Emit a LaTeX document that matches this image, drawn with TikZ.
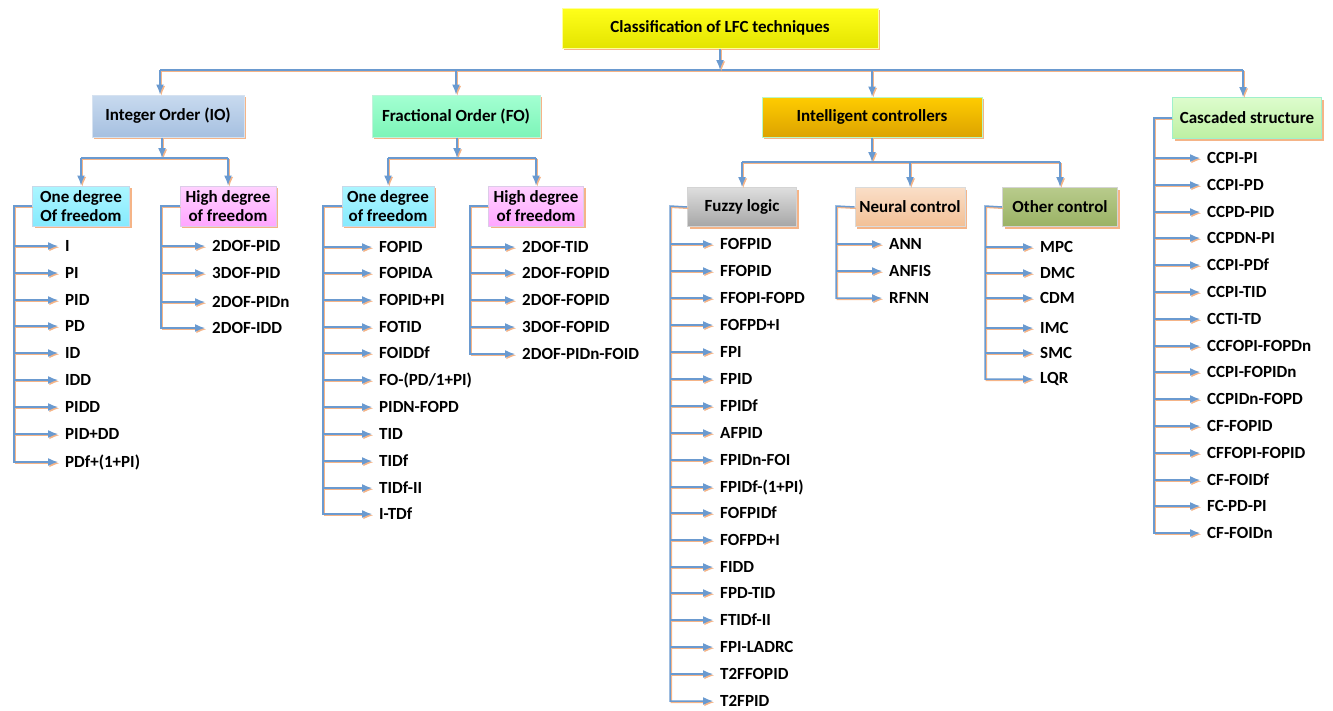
\documentclass[tikz,border=0pt]{standalone}
\usepackage{fontspec}
\setmainfont{Carlito}
\usetikzlibrary{shadows,arrows.meta}

\definecolor{linec}{HTML}{6A9AD0}
\definecolor{shadc}{HTML}{F5B487}
\definecolor{rootT}{HTML}{FFFF1A}\definecolor{rootB}{HTML}{E4E400}\definecolor{rootD}{HTML}{FFFF99}
\definecolor{ioT}{HTML}{C8DAEF}\definecolor{ioB}{HTML}{A6C0E0}\definecolor{ioD}{HTML}{D6E2F0}
\definecolor{foT}{HTML}{A4FFD2}\definecolor{foB}{HTML}{7CF5B8}\definecolor{foD}{HTML}{C0F2DA}
\definecolor{icT}{HTML}{FFCC00}\definecolor{icB}{HTML}{DCA300}\definecolor{icD}{HTML}{B8F8C8}
\definecolor{csT}{HTML}{DDFCCD}\definecolor{csB}{HTML}{BDF0A2}\definecolor{csD}{HTML}{A0F0CC}
\definecolor{oneT}{HTML}{ACF6FF}\definecolor{oneB}{HTML}{86EAFE}\definecolor{oneD}{HTML}{C8D8E8}
\definecolor{hiT}{HTML}{FFD2FF}\definecolor{hiB}{HTML}{FFA6FF}\definecolor{hiD}{HTML}{DCCCE8}
\definecolor{fzT}{HTML}{DEDEDE}\definecolor{fzB}{HTML}{A6A6A6}\definecolor{fzD}{HTML}{D4D4D4}
\definecolor{ncT}{HTML}{FADEC7}\definecolor{ncB}{HTML}{F2C096}\definecolor{ncD}{HTML}{DADADA}
\definecolor{ocT}{HTML}{B8CB8C}\definecolor{ocB}{HTML}{9AB264}\definecolor{ocD}{HTML}{D4D4D4}

\begin{document}
\begin{tikzpicture}[x=1pt,y=-1pt,
  font=\fontsize{17}{19}\selectfont\bfseries,
  box/.style n args={3}{top color=#1,bottom color=#2,draw=#3,line width=1pt,
    align=center,inner sep=1pt,
    drop shadow={fill=shadc,opacity=1,shadow xshift=2pt,shadow yshift=-2pt}},
  leaf/.style={anchor=west,inner xsep=7pt,inner ysep=1pt},
  wire/.style={draw=linec,line width=1.5pt,
    preaction={draw=shadc,line width=1.5pt,transform canvas={shift={(1.3pt,-1.3pt)}}}},
  conn/.style={wire,-{Latex[length=10pt,width=8pt]}}]
  \useasboundingbox (0,0) rectangle (1333,710);

  % top
  \node[box={rootT}{rootB}{rootD},minimum width=316,minimum height=40] (root) at (720,28) {Classification of LFC techniques};
  \node[box={ioT}{ioB}{ioD},minimum width=152,minimum height=42] (io) at (168,116) {Integer Order (IO)};
  \node[box={foT}{foB}{foD},minimum width=168,minimum height=42] (fo) at (456,116) {Fractional Order (FO)};
  \node[box={icT}{icB}{icD},minimum width=220,minimum height=40] (ic) at (872,117) {Intelligent controllers};
  \node[box={csT}{csB}{csD},minimum width=149,minimum height=41] (cs) at (1247,118) {Cascaded structure};

  \coordinate (busL) at (160,70);
  \coordinate (busR) at (1243,70);
  \draw[wire] (busL) -- (busR);
  \draw[conn] (root.south) -- (root.south |- busL);
  \draw[conn] (busL) -- (busL |- io.north);
  \draw[conn] (fo.north |- busL) -- (fo.north);
  \draw[conn] (ic.north |- busL) -- (ic.north);
  \draw[conn] (busR) -- (busR |- cs.north);

  % IO
  \node[box={oneT}{oneB}{oneD},minimum width=97,minimum height=40] (io1) at (81,206) {One degree\\Of freedom};
  \node[box={hiT}{hiB}{hiD},minimum width=96,minimum height=40] (ioh) at (228,206) {High degree\\of freedom};
  \coordinate (iob) at (162,158);
  \draw[conn] (io.south -| iob) -- (iob);
  \draw[wire] (io1.north |- iob) -- (ioh.north |- iob);
  \draw[conn] (io1.north |- iob) -- (io1.north);
  \draw[conn] (ioh.north |- iob) -- (ioh.north);

  \node[leaf] (ioo1) at (58,246) {I};
  \node[leaf] (ioo2) at (58,273) {PI};
  \node[leaf] (ioo3) at (58,300) {PID};
  \node[leaf] (ioo4) at (58,326) {PD};
  \node[leaf] (ioo5) at (58,353) {ID};
  \node[leaf] (ioo6) at (58,380) {IDD};
  \node[leaf] (ioo7) at (58,407) {PIDD};
  \node[leaf] (ioo8) at (58,434) {PID+DD};
  \node[leaf] (ioo9) at (58,462) {PDf+(1+PI)};
  \coordinate (iooT) at (14,206);
  \draw[conn] (io1.west) -- (iooT) |- (ioo9);
  \path
  (iooT |- ioo1) edge[conn] (ioo1) (iooT |- ioo2) edge[conn] (ioo2) (iooT |- ioo3) edge[conn] (ioo3)
  (iooT |- ioo4) edge[conn] (ioo4) (iooT |- ioo5) edge[conn] (ioo5) (iooT |- ioo6) edge[conn] (ioo6)
  (iooT |- ioo7) edge[conn] (ioo7) (iooT |- ioo8) edge[conn] (ioo8);

  \node[leaf] (ioh1) at (205,246) {2DOF-PID};
  \node[leaf] (ioh2) at (205,273) {3DOF-PID};
  \node[leaf] (ioh3) at (205,302) {2DOF-PIDn};
  \node[leaf] (ioh4) at (205,328) {2DOF-IDD};
  \coordinate (iohT) at (161,206);
  \draw[conn] (ioh.west) -- (iohT) |- (ioh4);
  \path
  (iohT |- ioh1) edge[conn] (ioh1) (iohT |- ioh2) edge[conn] (ioh2) (iohT |- ioh3) edge[conn] (ioh3);

  % FO
  \node[box={oneT}{oneB}{oneD},minimum width=92,minimum height=40] (fo1) at (388,206) {One degree\\of freedom};
  \node[box={hiT}{hiB}{hiD},minimum width=95,minimum height=40] (foh) at (536,206) {High degree\\of freedom};
  \coordinate (fob) at (457,158);
  \draw[conn] (fo.south -| fob) -- (fob);
  \draw[wire] (fo1.north |- fob) -- (foh.north |- fob);
  \draw[conn] (fo1.north |- fob) -- (fo1.north);
  \draw[conn] (foh.north |- fob) -- (foh.north);

  \node[leaf] (foo1) at (372,247) {FOPID};
  \node[leaf] (foo2) at (372,273) {FOPIDA};
  \node[leaf] (foo3) at (372,300) {FOPID+PI};
  \node[leaf] (foo4) at (372,327) {FOTID};
  \node[leaf] (foo5) at (372,353) {FOIDDf};
  \node[leaf] (foo6) at (372,380) {FO-(PD/1+PI)};
  \node[leaf] (foo7) at (372,407) {PIDN-FOPD};
  \node[leaf] (foo8) at (372,434) {TID};
  \node[leaf] (foo9) at (372,461) {TIDf};
  \node[leaf] (foo10) at (372,488) {TIDf-II};
  \node[leaf] (foo11) at (372,514) {I-TDf};
  \coordinate (fooT) at (323,206);
  \draw[conn] (fo1.west) -- (fooT) |- (foo11);
  \path
  (fooT |- foo1) edge[conn] (foo1) (fooT |- foo2) edge[conn] (foo2) (fooT |- foo3) edge[conn] (foo3)
  (fooT |- foo4) edge[conn] (foo4) (fooT |- foo5) edge[conn] (foo5) (fooT |- foo6) edge[conn] (foo6)
  (fooT |- foo7) edge[conn] (foo7) (fooT |- foo8) edge[conn] (foo8) (fooT |- foo9) edge[conn] (foo9)
  (fooT |- foo10) edge[conn] (foo10);

  \node[leaf] (foh1) at (515,247) {2DOF-TID};
  \node[leaf] (foh2) at (515,273) {2DOF-FOPID};
  \node[leaf] (foh3) at (515,300) {2DOF-FOPID};
  \node[leaf] (foh4) at (515,327) {3DOF-FOPID};
  \node[leaf] (foh5) at (515,354) {2DOF-PIDn-FOID};
  \coordinate (fohT) at (470,206);
  \draw[conn] (foh.west) -- (fohT) |- (foh5);
  \path
  (fohT |- foh1) edge[conn] (foh1) (fohT |- foh2) edge[conn] (foh2) (fohT |- foh3) edge[conn] (foh3)
  (fohT |- foh4) edge[conn] (foh4);

  % intelligent controllers
  \node[box={fzT}{fzB}{fzD},minimum width=109,minimum height=39] (fz) at (742,207) {Fuzzy logic};
  \node[box={ncT}{ncB}{ncD},minimum width=110,minimum height=39] (nc) at (910,207) {Neural control};
  \node[box={ocT}{ocB}{ocD},minimum width=115,minimum height=39] (oc) at (1060,207) {Other control};
  \coordinate (icb) at (872,162);
  \draw[conn] (ic.south) -- (icb);
  \draw[wire] (fz.north |- icb) -- (oc.north |- icb);
  \draw[conn] (fz.north |- icb) -- (fz.north);
  \draw[conn] (nc.north |- icb) -- (nc.north);
  \draw[conn] (oc.north |- icb) -- (oc.north);

  \node[leaf] (fz1) at (713,244) {FOFPID};
  \node[leaf] (fz2) at (713,271) {FFOPID};
  \node[leaf] (fz3) at (713,298) {FFOPI-FOPD};
  \node[leaf] (fz4) at (713,325) {FOFPD+I};
  \node[leaf] (fz5) at (713,352) {FPI};
  \node[leaf] (fz6) at (713,379) {FPID};
  \node[leaf] (fz7) at (713,406) {FPIDf};
  \node[leaf] (fz8) at (713,433) {AFPID};
  \node[leaf] (fz9) at (713,460) {FPIDn-FOI};
  \node[leaf] (fz10) at (713,487) {FPIDf-(1+PI)};
  \node[leaf] (fz11) at (713,513) {FOFPIDf};
  \node[leaf] (fz12) at (713,540) {FOFPD+I};
  \node[leaf] (fz13) at (713,567) {FIDD};
  \node[leaf] (fz14) at (713,593) {FPD-TID};
  \node[leaf] (fz15) at (713,620) {FTIDf-II};
  \node[leaf] (fz16) at (713,647) {FPI-LADRC};
  \node[leaf] (fz17) at (713,674) {T2FFOPID};
  \node[leaf] (fz18) at (713,701) {T2FPID};
  \coordinate (fzT) at (670,206);
  \draw[conn] (fz.west) -- (fzT) |- (fz18);
  \path
  (fzT |- fz1) edge[conn] (fz1) (fzT |- fz2) edge[conn] (fz2) (fzT |- fz3) edge[conn] (fz3)
  (fzT |- fz4) edge[conn] (fz4) (fzT |- fz5) edge[conn] (fz5) (fzT |- fz6) edge[conn] (fz6)
  (fzT |- fz7) edge[conn] (fz7) (fzT |- fz8) edge[conn] (fz8) (fzT |- fz9) edge[conn] (fz9)
  (fzT |- fz10) edge[conn] (fz10) (fzT |- fz11) edge[conn] (fz11) (fzT |- fz12) edge[conn] (fz12)
  (fzT |- fz13) edge[conn] (fz13) (fzT |- fz14) edge[conn] (fz14) (fzT |- fz15) edge[conn] (fz15)
  (fzT |- fz16) edge[conn] (fz16) (fzT |- fz17) edge[conn] (fz17);

  \node[leaf] (nc1) at (882,244) {ANN};
  \node[leaf] (nc2) at (882,271) {ANFIS};
  \node[leaf] (nc3) at (882,298) {RFNN};
  \coordinate (ncT) at (836,206);
  \draw[conn] (nc.west) -- (ncT) |- (nc3);
  \path (ncT |- nc1) edge[conn] (nc1) (ncT |- nc2) edge[conn] (nc2);

  \node[leaf] (oc1) at (1033,247) {MPC};
  \node[leaf] (oc2) at (1033,273) {DMC};
  \node[leaf] (oc3) at (1033,298) {CDM};
  \node[leaf] (oc4) at (1033,328) {IMC};
  \node[leaf] (oc5) at (1033,353) {SMC};
  \node[leaf] (oc6) at (1033,379) {LQR};
  \coordinate (ocT) at (985,206);
  \draw[conn] (oc.west) -- (ocT) |- (oc6);
  \path
  (ocT |- oc1) edge[conn] (oc1) (ocT |- oc2) edge[conn] (oc2) (ocT |- oc3) edge[conn] (oc3)
  (ocT |- oc4) edge[conn] (oc4) (ocT |- oc5) edge[conn] (oc5);

  % cascaded
  \node[leaf] (cs1) at (1200,158) {CCPI-PI};
  \node[leaf] (cs2) at (1200,185) {CCPI-PD};
  \node[leaf] (cs3) at (1200,212) {CCPD-PID};
  \node[leaf] (cs4) at (1200,238) {CCPDN-PI};
  \node[leaf] (cs5) at (1200,265) {CCPI-PDf};
  \node[leaf] (cs6) at (1200,292) {CCPI-TID};
  \node[leaf] (cs7) at (1200,319) {CCTI-TD};
  \node[leaf] (cs8) at (1200,346) {CCFOPI-FOPDn};
  \node[leaf] (cs9) at (1200,372) {CCPI-FOPIDn};
  \node[leaf] (cs10) at (1200,399) {CCPIDn-FOPD};
  \node[leaf] (cs11) at (1200,426) {CF-FOPID};
  \node[leaf] (cs12) at (1200,453) {CFFOPI-FOPID};
  \node[leaf] (cs13) at (1200,480) {CF-FOIDf};
  \node[leaf] (cs14) at (1200,506) {FC-PD-PI};
  \node[leaf] (cs15) at (1200,533) {CF-FOIDn};
  \coordinate (csT) at (1154,118);
  \draw[conn] (cs.west) -- (csT) |- (cs15);
  \path
  (csT |- cs1) edge[conn] (cs1) (csT |- cs2) edge[conn] (cs2) (csT |- cs3) edge[conn] (cs3)
  (csT |- cs4) edge[conn] (cs4) (csT |- cs5) edge[conn] (cs5) (csT |- cs6) edge[conn] (cs6)
  (csT |- cs7) edge[conn] (cs7) (csT |- cs8) edge[conn] (cs8) (csT |- cs9) edge[conn] (cs9)
  (csT |- cs10) edge[conn] (cs10) (csT |- cs11) edge[conn] (cs11) (csT |- cs12) edge[conn] (cs12)
  (csT |- cs13) edge[conn] (cs13) (csT |- cs14) edge[conn] (cs14);
\end{tikzpicture}
\end{document}
